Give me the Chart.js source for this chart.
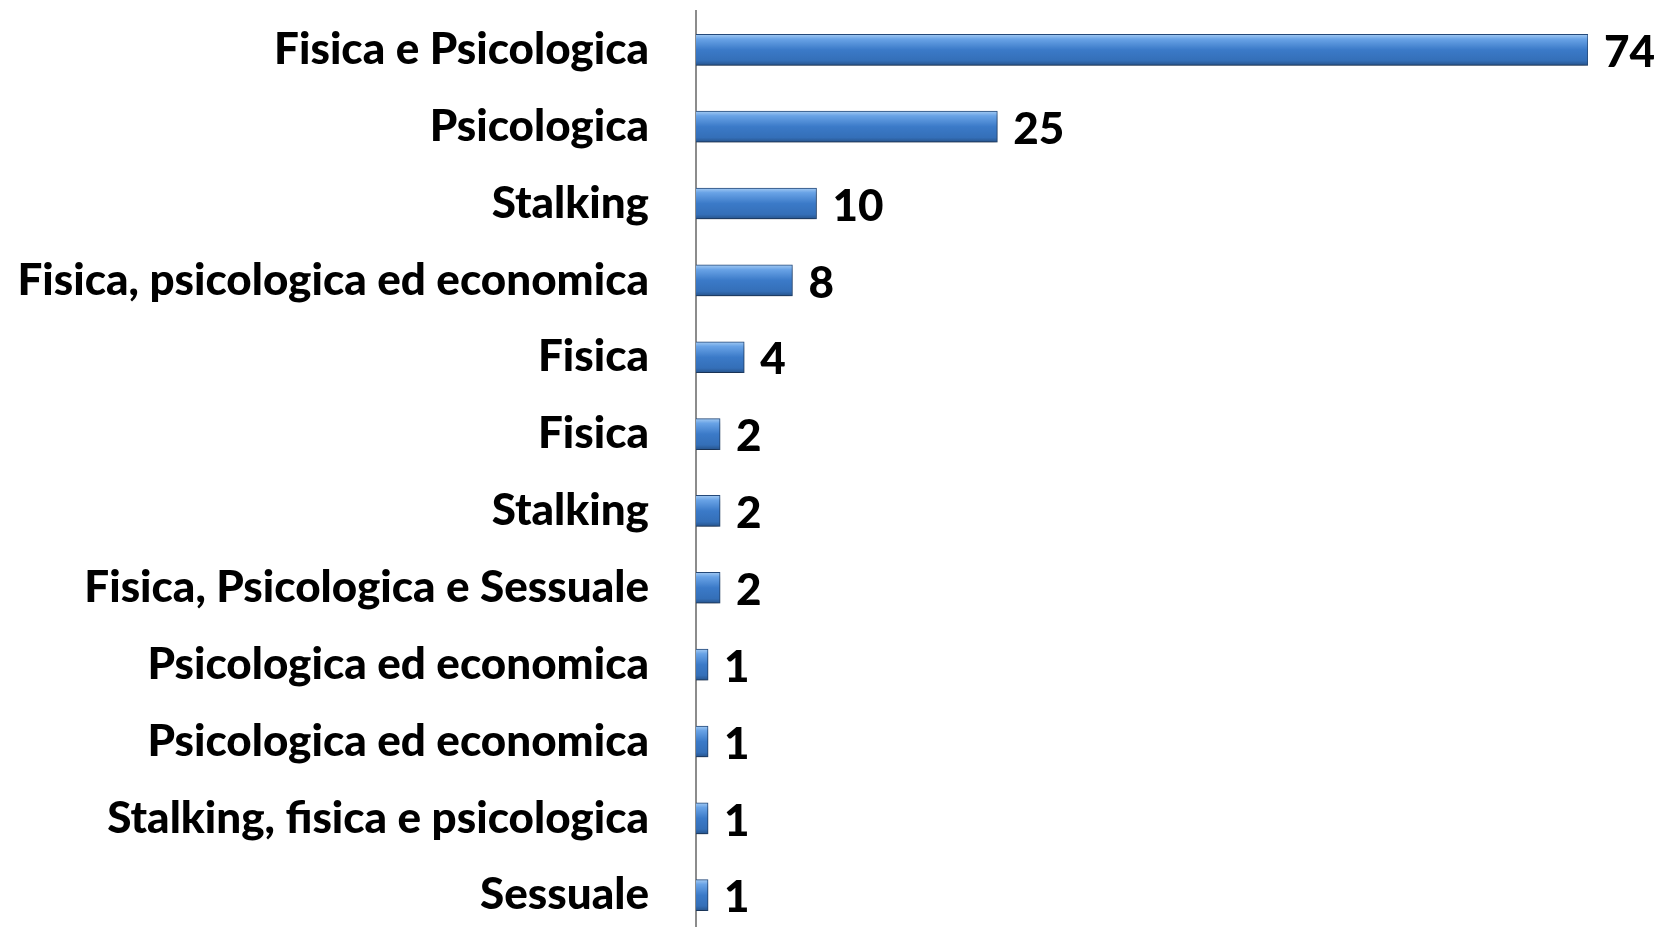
<!DOCTYPE html>
<html>
<head>
<title>Tipologia di violenza</title>
<script src="https://cdn.jsdelivr.net/npm/chart.js"></script>
<style>
  html, body { margin: 0; padding: 0; background: #fff; overflow: hidden; }
  #wrap { width: 1655px; height: 975px; margin-top: -15px; }
</style>
</head>
<body>
<div id="wrap"><canvas id="violenzaChart"></canvas></div>
<script>
const categories = [
  'Fisica e Psicologica',
  'Psicologica',
  'Stalking',
  'Fisica, psicologica ed economica',
  'Fisica',
  'Fisica',
  'Stalking',
  'Fisica, Psicologica e Sessuale',
  'Psicologica ed economica',
  'Psicologica ed economica',
  'Stalking, fisica e psicologica',
  'Sessuale'
];
const values = [74, 25, 10, 8, 4, 2, 2, 2, 1, 1, 1, 1];

const FONT = 'Lato, "Open Sans", sans-serif';
const FONT_SIZE = 44;

// gradient per bar + soft shadow, like the office bevel style
const barStyle = {
  id: 'barStyle',
  beforeDatasetsDraw(chart) {
    const ctx = chart.ctx;
    chart.getDatasetMeta(0).data.forEach(el => {
      const top = el.y - el.height / 2;
      const g = ctx.createLinearGradient(0, top, 0, top + el.height);
      g.addColorStop(0, '#a3caf3');
      g.addColorStop(0.15, '#69a3e6');
      g.addColorStop(0.5, '#3b7ac8');
      g.addColorStop(0.85, '#346fb8');
      g.addColorStop(1, '#27548c');
      el.options.backgroundColor = g;
    });
    ctx.save();
    ctx.shadowColor = 'rgba(0,0,0,0.35)';
    ctx.shadowBlur = 5;
    ctx.shadowOffsetY = 4;
  },
  afterDatasetsDraw(chart) {
    const ctx = chart.ctx;
    ctx.restore();
    // value labels
    ctx.save();
    ctx.font = '900 ' + FONT_SIZE + 'px ' + FONT;
    ctx.fillStyle = '#000';
    ctx.textBaseline = 'middle';
    ctx.textAlign = 'left';
    chart.getDatasetMeta(0).data.forEach((el, i) => {
      ctx.fillText(String(values[i]), el.x + 16, el.y + 3);
    });
    ctx.restore();
  }
};

new Chart(document.getElementById('violenzaChart').getContext('2d'), {
  type: 'bar',
  data: {
    labels: categories,
    datasets: [{
      data: values,
      backgroundColor: () => '#3b7ac8',
      borderColor: '#24497a',
      borderWidth: 1,
      barThickness: 31
    }]
  },
  options: {
    indexAxis: 'y',
    responsive: true,
    maintainAspectRatio: false,
    animation: false,
    layout: { padding: { top: 0, right: 67, bottom: 0, left: 0 } },
    plugins: {
      legend: { display: false },
      tooltip: { enabled: false }
    },
    scales: {
      x: {
        display: false,
        min: 0,
        max: 74
      },
      y: {
        afterFit: s => { s.width = 696; },
        grid: {
          display: true,
          drawOnChartArea: false,
          color: 'rgba(0,0,0,0)',
          tickLength: 47
        },
        border: { display: true, color: '#8c8c8c', width: 2 },
        ticks: {
          padding: 0,
          color: '#000',
          font: { family: FONT, size: FONT_SIZE, weight: '900' }
        }
      }
    }
  },
  plugins: [barStyle]
});
</script>
</body>
</html>
